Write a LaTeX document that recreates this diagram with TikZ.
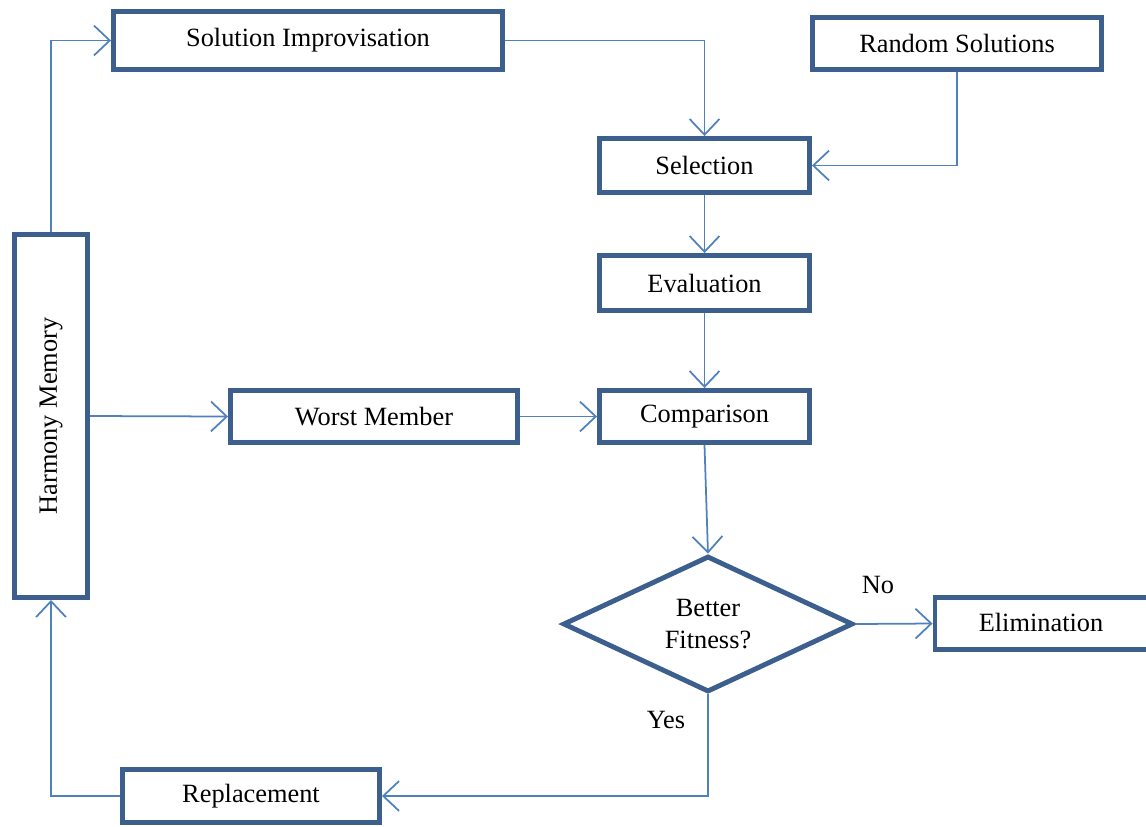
\documentclass[tikz,border=0pt]{standalone}
\usepackage{fontspec}
\setmainfont{Liberation Serif}
\usepackage{xcolor}
\usepackage{tikz}
\usetikzlibrary{shapes.geometric, arrows.meta, positioning}

\definecolor{boxblue}{RGB}{60,95,142}
\definecolor{linkblue}{RGB}{79,129,189}

\begin{document}
\begin{tikzpicture}[
    x=0.02cm, y=-0.02cm,
    block/.style={draw=boxblue, line width=2.8pt, rectangle, inner sep=0pt, align=center, font=\fontsize{15}{18}\selectfont},
    decision/.style={draw=boxblue, line width=2.8pt, diamond, inner sep=0pt, align=center, font=\fontsize{15}{18}\selectfont},
    arrow/.style={draw=linkblue, line width=1pt, -{Straight Barb[length=9pt, width=17pt, line width=1pt]}},
    label/.style={font=\fontsize{15}{18}\selectfont}
]
    \useasboundingbox (0,0) rectangle (1146,826);

    % Boxes of the loop
    \node[block, minimum width=389*0.02cm, minimum height=58*0.02cm] (solimp) at (308,40.5) {Solution Improvisation};
    \node[block, minimum width=289*0.02cm, minimum height=52*0.02cm] (randsol) at (957,43.5) {Random Solutions};
    \node[block, minimum width=210*0.02cm, minimum height=54*0.02cm] (selection) at (704.5,165.5) {Selection};
    \node[block, minimum width=210*0.02cm, minimum height=55*0.02cm] (evaluation) at (704.5,283) {Evaluation};
    \node[block, minimum width=210*0.02cm, minimum height=52*0.02cm] (comparison) at (704.5,416.5) {Comparison};
    \node[block, minimum width=287*0.02cm, minimum height=52*0.02cm] (worst) at (374,416.5) {Worst Member};
    \node[block, minimum width=73*0.02cm, minimum height=363*0.02cm] (harmony) at (51,416) {};
    \node[label, rotate=90] (harmonytxt) at (harmony.center) {Harmony Memory};
    \node[decision, minimum width=290*0.02cm, minimum height=136*0.02cm] (fitness) at (708,624) {Better\\Fitness?};
    \node[block, minimum width=226*0.02cm, minimum height=52*0.02cm] (elimination) at (1048,623.5) {};
    \node[label] (elimtxt) at (1041,622) {Elimination};
    \node[block, minimum width=257*0.02cm, minimum height=53*0.02cm] (replacement) at (251,796) {Replacement};

    % Branch labels
    \node[label] (nolbl) at (878,585) {No};
    \node[label] (yeslbl) at (666,720) {Yes};

    % Connectors
    \draw[arrow] (harmony.north) |- (solimp.west);
    \draw[arrow] (solimp.east) -| (selection.north);
    \draw[arrow] (randsol.south) |- (selection.east);
    \draw[arrow] (selection) -- (evaluation);
    \draw[arrow] (evaluation) -- (comparison);
    \draw[arrow] (harmony.east) -- (worst.west);
    \draw[arrow] (worst) -- (comparison);
    \draw[arrow] (comparison.south) -- (fitness.north);
    \draw[arrow] (fitness.east) -- (elimination.west);
    \draw[arrow] (fitness.south) |- (replacement.east);
    \draw[arrow] (replacement.west) -| (harmony.south);

\end{tikzpicture}
\end{document}
